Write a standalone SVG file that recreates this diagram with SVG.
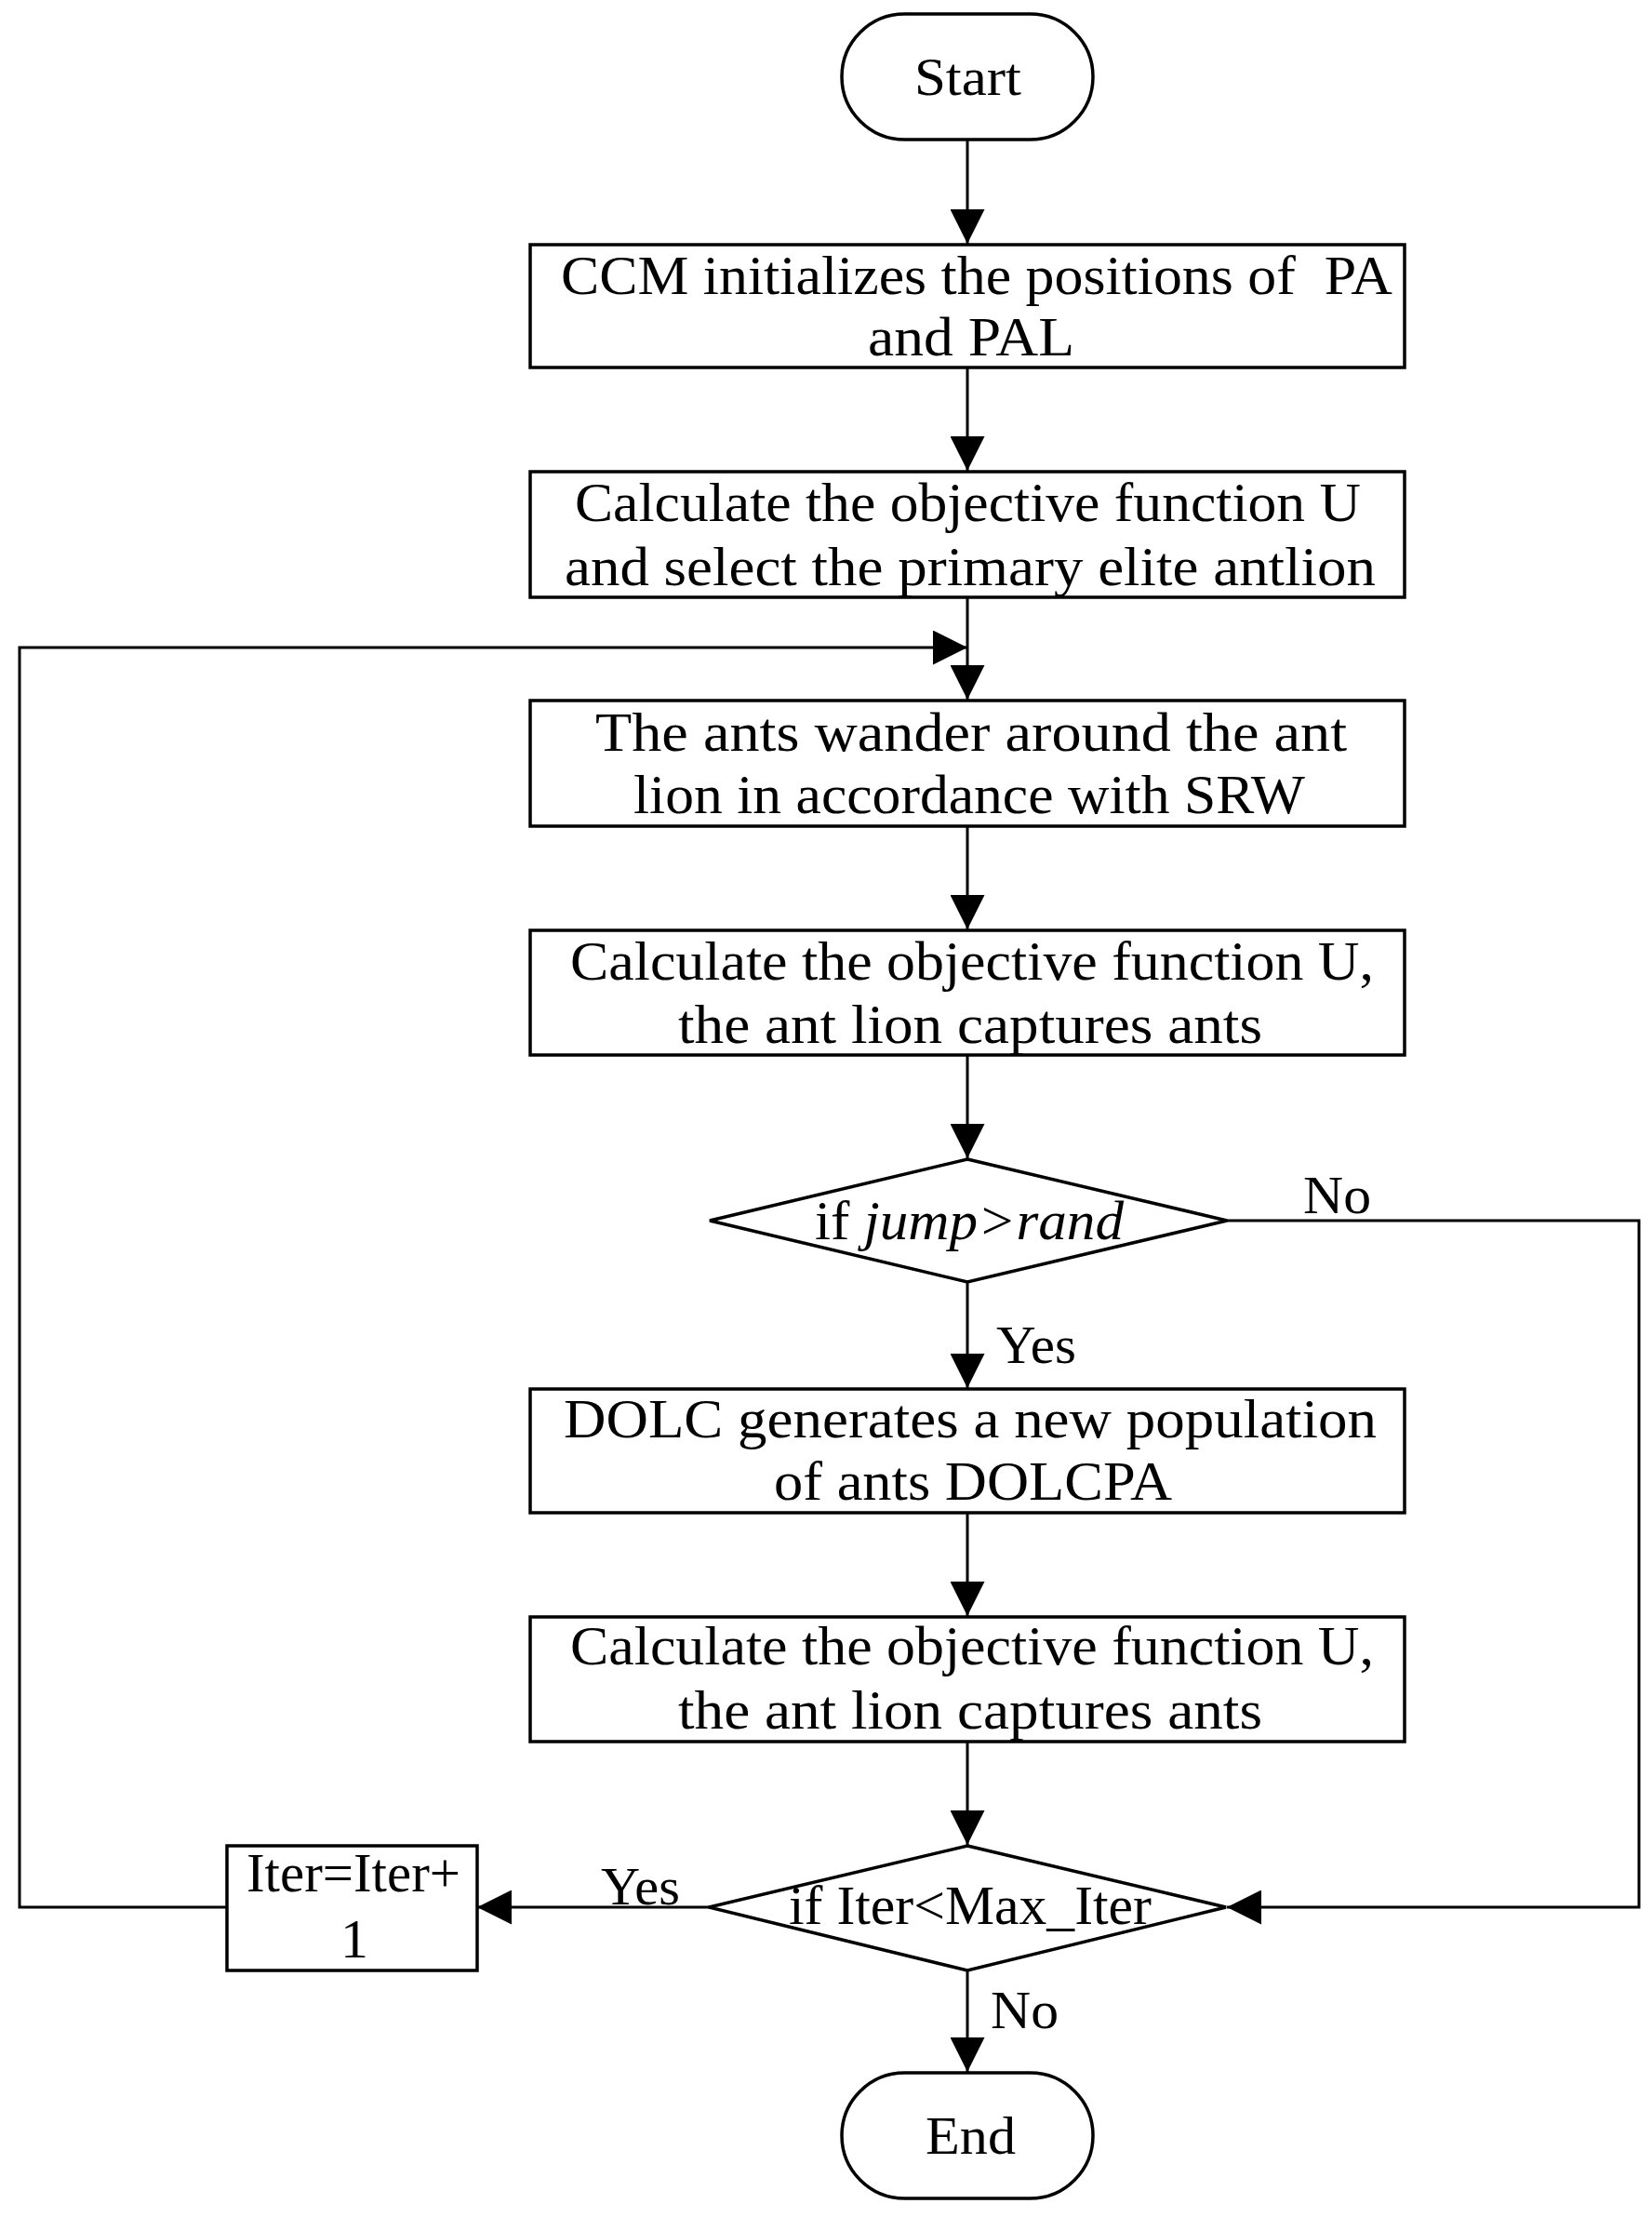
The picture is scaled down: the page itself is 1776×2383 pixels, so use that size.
<svg xmlns="http://www.w3.org/2000/svg" width="1776" height="2383" viewBox="0 0 1776 2383">
<style>
.shape{fill:#fff;stroke:#000;stroke-width:3.5}
.line{fill:none;stroke:#000;stroke-width:3}
text{font-family:"Liberation Serif","Times New Roman",serif;font-size:60px;fill:#000}
.lbl{font-size:58px}
</style>
<defs>
<marker id="arr" markerUnits="userSpaceOnUse" markerWidth="37" markerHeight="37" refX="37" refY="18.5" orient="auto">
<path d="M0,0 L37,18.5 L0,37 z" fill="#000"/>
</marker>
</defs>
<rect width="1776" height="2383" fill="#fff"/>
<g id="connectors">
<path class="line" d="M1040,150 V262" marker-end="url(#arr)"/>
<path class="line" d="M1040,395 V506" marker-end="url(#arr)"/>
<path class="line" d="M1040,642 V752" marker-end="url(#arr)"/>
<path class="line" d="M243,2050 H21 V696 H1040" marker-end="url(#arr)"/>
<path class="line" d="M1040,888 V999" marker-end="url(#arr)"/>
<path class="line" d="M1040,1134 V1245" marker-end="url(#arr)"/>
<path class="line" d="M1040,1378 V1492" marker-end="url(#arr)"/>
<path class="line" d="M1319,1312 H1762 V2050 H1319" marker-end="url(#arr)"/>
<path class="line" d="M1040,1626 V1737" marker-end="url(#arr)"/>
<path class="line" d="M1040,1872 V1983" marker-end="url(#arr)"/>
<path class="line" d="M762,2050 H513" marker-end="url(#arr)"/>
<path class="line" d="M1040,2118 V2227" marker-end="url(#arr)"/>
<text class="lbl" x="1401" y="1304" textLength="73" lengthAdjust="spacingAndGlyphs">No</text>
<text class="lbl" x="1071" y="1465" textLength="86" lengthAdjust="spacingAndGlyphs">Yes</text>
<text class="lbl" x="646" y="2047" textLength="85" lengthAdjust="spacingAndGlyphs">Yes</text>
<text class="lbl" x="1065" y="2180" textLength="73" lengthAdjust="spacingAndGlyphs">No</text>
</g>
<g id="start">
<rect class="shape" x="905" y="15" width="270" height="135" rx="67.5" ry="67.5"/>
<text class="lbl" x="983" y="102" textLength="115" lengthAdjust="spacingAndGlyphs">Start</text>
</g>
<g id="box1">
<rect class="shape" x="570" y="263" width="940" height="132"/>
<text x="603" y="316" textLength="894" lengthAdjust="spacingAndGlyphs" xml:space="preserve">CCM initializes the positions of  PA</text>
<text x="933" y="382" textLength="222" lengthAdjust="spacingAndGlyphs">and PAL</text>
</g>
<g id="box2">
<rect class="shape" x="570" y="507" width="940" height="135"/>
<text x="618" y="560" textLength="845" lengthAdjust="spacingAndGlyphs">Calculate the objective function U</text>
<text x="607" y="629" textLength="872" lengthAdjust="spacingAndGlyphs">and select the primary elite antlion</text>
</g>
<g id="box3">
<rect class="shape" x="570" y="753" width="940" height="135"/>
<text x="640" y="807" textLength="808" lengthAdjust="spacingAndGlyphs">The ants wander around the ant</text>
<text x="681" y="874" textLength="722" lengthAdjust="spacingAndGlyphs">lion in accordance with SRW</text>
</g>
<g id="box4">
<rect class="shape" x="570" y="1000" width="940" height="134"/>
<text x="613" y="1053" textLength="864" lengthAdjust="spacingAndGlyphs">Calculate the objective function U,</text>
<text x="729" y="1121" textLength="628" lengthAdjust="spacingAndGlyphs">the ant lion captures ants</text>
</g>
<g id="decision1">
<polygon class="shape" points="1040,1246 1319,1312 1040,1378 763,1312"/>
<text x="876" y="1332" textLength="332" lengthAdjust="spacingAndGlyphs">if <tspan font-style="italic">jump&gt;rand</tspan></text>
</g>
<g id="box5">
<rect class="shape" x="570" y="1493" width="940" height="133"/>
<text x="606" y="1545" textLength="874" lengthAdjust="spacingAndGlyphs">DOLC generates a new population</text>
<text x="832" y="1612" textLength="428" lengthAdjust="spacingAndGlyphs">of ants DOLCPA</text>
</g>
<g id="box6">
<rect class="shape" x="570" y="1738" width="940" height="134"/>
<text x="613" y="1789" textLength="864" lengthAdjust="spacingAndGlyphs">Calculate the objective function U,</text>
<text x="729" y="1858" textLength="628" lengthAdjust="spacingAndGlyphs">the ant lion captures ants</text>
</g>
<g id="decision2">
<polygon class="shape" points="1040,1984 1318,2050 1040,2118 762,2050"/>
<text x="848" y="2068" textLength="390" lengthAdjust="spacingAndGlyphs">if Iter&lt;Max_Iter</text>
</g>
<g id="iter">
<rect class="shape" x="244" y="1984" width="269" height="134"/>
<text x="265" y="2033" textLength="230" lengthAdjust="spacingAndGlyphs">Iter=Iter+</text>
<text x="381" y="2104" text-anchor="middle">1</text>
</g>
<g id="end">
<rect class="shape" x="905" y="2228" width="270" height="135" rx="67.5" ry="67.5"/>
<text class="lbl" x="995" y="2315" textLength="97" lengthAdjust="spacingAndGlyphs">End</text>
</g>
</svg>
